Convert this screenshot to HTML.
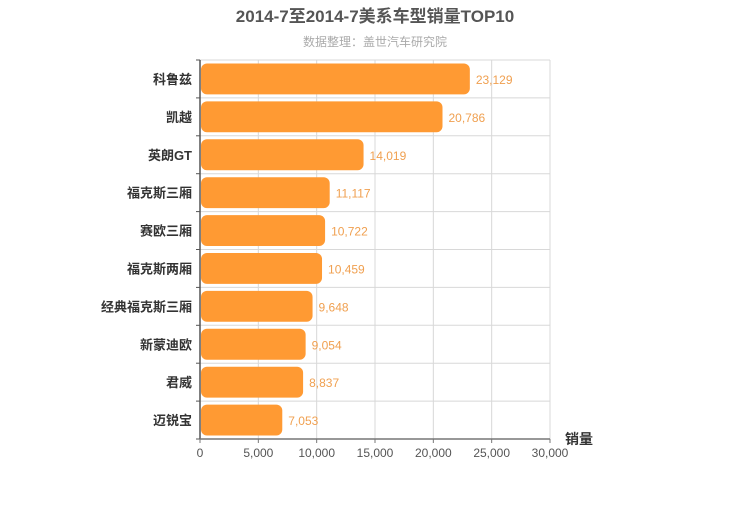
<!DOCTYPE html>
<html><head><meta charset="utf-8"><style>
body{margin:0;background:#fff;}
svg text{font-family:"Liberation Sans","Noto Sans CJK SC",sans-serif;}
</style></head><body>
<svg id="chart" width="750" height="500" xmlns="http://www.w3.org/2000/svg">
<text x="375" y="22" text-anchor="middle" font-size="17" font-weight="bold" fill="#555">2014-7至2014-7美系车型销量TOP10</text>
<text x="375" y="46" text-anchor="middle" font-size="12" fill="#aaa">数据整理：盖世汽车研究院</text>
<g id="grid"></g><g id="bars"></g><g id="axes"></g>
</svg>
<script>
const categories=["科鲁兹","凯越","英朗GT","福克斯三厢","赛欧三厢","福克斯两厢","经典福克斯三厢","新蒙迪欧","君威","迈锐宝"];
const sales=[23129,20786,14019,11117,10722,10459,9648,9054,8837,7053];
const ticks=[0,5000,10000,15000,20000,25000,30000];
const NS="http://www.w3.org/2000/svg";
const X0=200,X1=550,Y0=60,Y1=439,MAX=30000;
const x=v=>X0+(v/MAX)*(X1-X0);
const rowH=(Y1-Y0)/categories.length;
const y=i=>Y0+i*rowH;
function mk(t,a,p){const e=document.createElementNS(NS,t);for(const k in a)e.setAttribute(k,a[k]);p.appendChild(e);return e;}
const grid=document.getElementById('grid'),bars=document.getElementById('bars'),axes=document.getElementById('axes');
ticks.forEach(t=>{if(t===0)return;const l=mk('line',{x1:x(t),x2:x(t),y1:Y0,y2:Y1,stroke:'#d8d8d8'},grid);

});
for(let i=0;i<=categories.length;i++){const l=mk('line',{x1:X0,x2:X1,y1:y(i),y2:y(i),stroke:'#d8d8d8'},grid);

}
categories.forEach((c,i)=>{
const r=mk('rect',{x:X0+1,y:y(i)+3.5,width:x(sales[i])-X0-1,height:rowH-7,rx:6,fill:'#ff9a33'},bars);


const v=mk('text',{x:x(sales[i])+6,y:y(i)+rowH/2+5,'font-size':12,fill:'#f0a050'},bars);v.textContent=sales[i].toLocaleString('en-US');


const lb=mk('text',{x:X0-8,y:y(i)+rowH/2+5,'font-size':13,'font-weight':'bold',fill:'#333','text-anchor':'end'},axes);lb.textContent=c;


});
const ya=mk('line',{x1:X0,x2:X0,y1:Y0,y2:Y1,stroke:'#555','stroke-width':1.5},axes);


for(let i=0;i<=categories.length;i++){const t=mk('line',{x1:X0-4,x2:X0,y1:y(i),y2:y(i),stroke:'#555'},axes);

}
const xa=mk('line',{x1:X0,x2:X1,y1:Y1,y2:Y1,stroke:'#777','stroke-width':1.5},axes);


ticks.forEach(t=>{const tk=mk('line',{x1:x(t),x2:x(t),y1:Y1,y2:Y1+4,stroke:'#777'},axes);


const tl=mk('text',{x:x(t),y:Y1+18,'font-size':12,fill:'#555','text-anchor':'middle'},axes);tl.textContent=t.toLocaleString('en-US');

});
const at=mk('text',{x:X1+15,y:Y1+5,'font-size':14,'font-weight':'bold',fill:'#333'},axes);at.textContent='销量';


</script>
</body></html>
